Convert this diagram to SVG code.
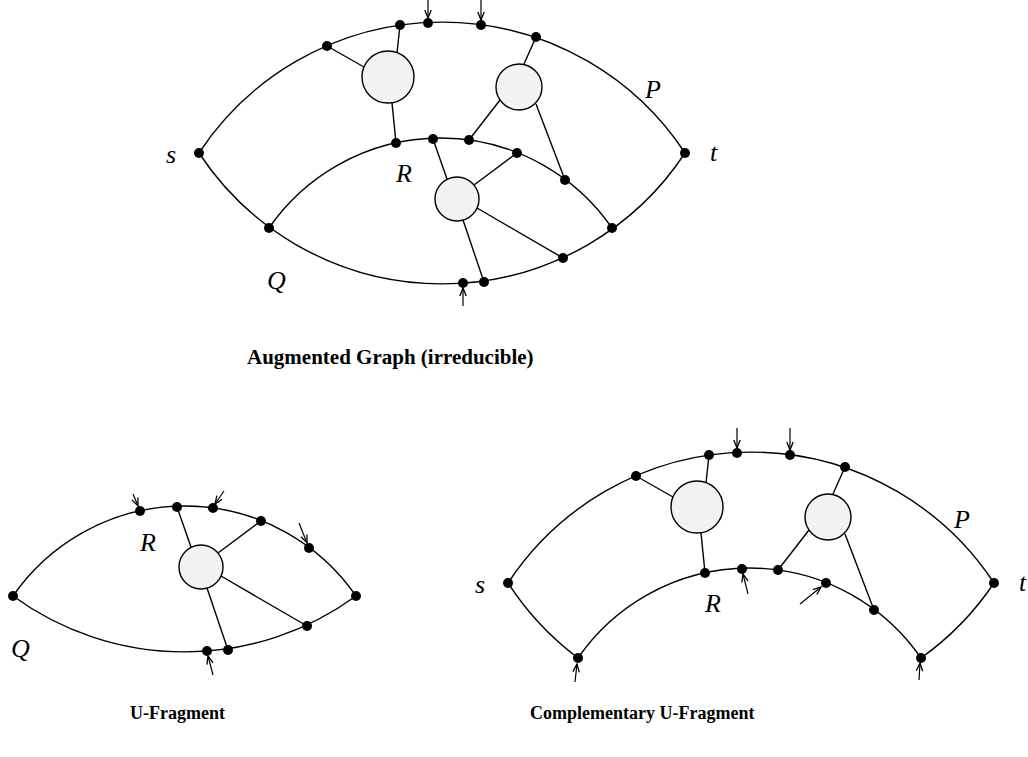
<svg xmlns="http://www.w3.org/2000/svg" width="1028" height="757" viewBox="0 0 1028 757">
<style>
.e{fill:none;stroke:#000;stroke-width:1.4}
.c{fill:#f2f2f2;stroke:#000;stroke-width:1.4}
.n{fill:#000}
.a{fill:none;stroke:#000;stroke-width:1.2;marker-end:url(#arr)}
.l{font-family:"Liberation Serif","Times New Roman",serif;font-style:italic;font-size:26px;fill:#000}
.cap{font-family:"Liberation Serif","Times New Roman",serif;font-weight:bold;font-size:18px;fill:#000}
</style>
<defs>
<marker id="arr" viewBox="-10 -5 12 10" refX="0" refY="0" markerWidth="12" markerHeight="10" markerUnits="userSpaceOnUse" orient="auto">
<path d="M-8,-3.2 L0,0 L-8,3.2" fill="none" stroke="#000" stroke-width="1.3"/>
</marker>
</defs>
<rect width="1028" height="757" fill="#fff"/>

<!-- Augmented graph -->
<g id="connectors-top">
<path class="e" d="M199,153 A291,291 0 0 1 685,153"/>
<path class="e" d="M199,153 A291,291 0 0 0 685,153"/>
<path class="e" d="M269,228 A208.4,208.4 0 0 1 612,228"/>
<line class="e" x1="327" y1="46" x2="364" y2="67"/>
<line class="e" x1="400" y1="25" x2="397" y2="53"/>
<line class="e" x1="392" y1="103" x2="396" y2="143"/>
<line class="e" x1="536" y1="37" x2="524" y2="64"/>
<line class="e" x1="500" y1="100" x2="469" y2="140"/>
<line class="e" x1="536" y1="104" x2="565" y2="180"/>
<line class="e" x1="433" y1="139" x2="447" y2="179"/>
<line class="e" x1="517" y1="153" x2="474" y2="185"/>
<line class="e" x1="477" y1="208" x2="563" y2="258"/>
<line class="e" x1="463" y1="220" x2="484" y2="282"/>
<line class="a" x1="428" y1="0" x2="428" y2="18"/>
<line class="a" x1="481" y1="0" x2="481" y2="20"/>
<line class="a" x1="463" y1="306" x2="463" y2="288"/>
</g>
<g id="top-circle-1"><circle class="c" cx="388" cy="77" r="26"/></g>
<g id="top-circle-2"><circle class="c" cx="519" cy="87" r="23"/></g>
<g id="top-circle-3"><circle class="c" cx="457" cy="199" r="22"/></g>
<g id="top-nodes">
<circle class="n" cx="199" cy="153" r="5"/>
<circle class="n" cx="685" cy="153" r="5"/>
<circle class="n" cx="327" cy="46" r="5"/>
<circle class="n" cx="400" cy="25" r="5"/>
<circle class="n" cx="428" cy="23" r="5"/>
<circle class="n" cx="481" cy="25" r="5"/>
<circle class="n" cx="536" cy="37" r="5"/>
<circle class="n" cx="269" cy="228" r="5"/>
<circle class="n" cx="612" cy="228" r="5"/>
<circle class="n" cx="396" cy="143" r="5"/>
<circle class="n" cx="433" cy="139" r="5"/>
<circle class="n" cx="469" cy="140" r="5"/>
<circle class="n" cx="517" cy="153" r="5"/>
<circle class="n" cx="565" cy="180" r="5"/>
<circle class="n" cx="563" cy="258" r="5"/>
<circle class="n" cx="484" cy="282" r="5"/>
<circle class="n" cx="463" cy="283" r="5"/>
</g>
<g id="top-labels">
<text class="l" x="166" y="163">s</text>
<text class="l" x="710" y="161">t</text>
<text class="l" x="645" y="98">P</text>
<text class="l" x="396" y="182">R</text>
<text class="l" x="267" y="289">Q</text>
<text class="cap" x="247" y="364" style="font-size:21px">Augmented Graph (irreducible)</text>
</g>

<!-- U-Fragment -->
<g id="connectors-left">
<path class="e" d="M13,596 A208.4,208.4 0 0 1 356,596"/>
<path class="e" d="M13,596 A291,291 0 0 0 356,596"/>
<line class="e" x1="177" y1="507" x2="191" y2="547"/>
<line class="e" x1="261" y1="521" x2="218" y2="553"/>
<line class="e" x1="221" y1="576" x2="307" y2="626"/>
<line class="e" x1="207" y1="588" x2="228" y2="650"/>
<line class="a" x1="133" y1="494" x2="138" y2="506"/>
<line class="a" x1="224" y1="491" x2="215" y2="504"/>
<line class="a" x1="299" y1="523" x2="307" y2="543"/>
<line class="a" x1="213" y1="675" x2="208" y2="656"/>
</g>
<g id="left-circle"><circle class="c" cx="201" cy="567" r="22"/></g>
<g id="left-nodes">
<circle class="n" cx="13" cy="596" r="5"/>
<circle class="n" cx="140" cy="511" r="5"/>
<circle class="n" cx="177" cy="507" r="5"/>
<circle class="n" cx="213" cy="508" r="5"/>
<circle class="n" cx="261" cy="521" r="5"/>
<circle class="n" cx="309" cy="548" r="5"/>
<circle class="n" cx="356" cy="596" r="5"/>
<circle class="n" cx="307" cy="626" r="5"/>
<circle class="n" cx="228" cy="650" r="5"/>
<circle class="n" cx="207" cy="651" r="5"/>
</g>
<g id="left-labels">
<text class="l" x="140" y="551">R</text>
<text class="l" x="11" y="657">Q</text>
<text class="cap" x="130" y="719">U-Fragment</text>
</g>

<!-- Complementary U-Fragment -->
<g id="connectors-right">
<path class="e" d="M508,583 A291,291 0 0 1 994,583"/>
<path class="e" d="M508,583 A291,291 0 0 0 578,658"/>
<path class="e" d="M921,658 A291,291 0 0 0 994,583"/>
<path class="e" d="M578,658 A208.4,208.4 0 0 1 921,658"/>
<line class="e" x1="636" y1="476" x2="673" y2="497"/>
<line class="e" x1="709" y1="455" x2="706" y2="483"/>
<line class="e" x1="701" y1="533" x2="705" y2="573"/>
<line class="e" x1="845" y1="467" x2="833" y2="494"/>
<line class="e" x1="809" y1="530" x2="778" y2="570"/>
<line class="e" x1="845" y1="534" x2="874" y2="610"/>
<line class="a" x1="737" y1="428" x2="737" y2="448"/>
<line class="a" x1="790" y1="428" x2="790" y2="450"/>
<line class="a" x1="748" y1="594" x2="743" y2="574"/>
<line class="a" x1="800" y1="604" x2="821" y2="587"/>
<line class="a" x1="575" y1="682" x2="577" y2="664"/>
<line class="a" x1="919" y1="680" x2="920" y2="663"/>
</g>
<g id="right-circle-1"><circle class="c" cx="697" cy="507" r="26"/></g>
<g id="right-circle-2"><circle class="c" cx="828" cy="517" r="23"/></g>
<g id="right-nodes">
<circle class="n" cx="508" cy="583" r="5"/>
<circle class="n" cx="994" cy="583" r="5"/>
<circle class="n" cx="636" cy="476" r="5"/>
<circle class="n" cx="709" cy="455" r="5"/>
<circle class="n" cx="737" cy="453" r="5"/>
<circle class="n" cx="790" cy="455" r="5"/>
<circle class="n" cx="845" cy="467" r="5"/>
<circle class="n" cx="705" cy="573" r="5"/>
<circle class="n" cx="742" cy="569" r="5"/>
<circle class="n" cx="778" cy="570" r="5"/>
<circle class="n" cx="826" cy="583" r="5"/>
<circle class="n" cx="874" cy="610" r="5"/>
<circle class="n" cx="578" cy="658" r="5"/>
<circle class="n" cx="921" cy="658" r="5"/>
</g>
<g id="right-labels">
<text class="l" x="475" y="593">s</text>
<text class="l" x="1019" y="591">t</text>
<text class="l" x="954" y="528">P</text>
<text class="l" x="705" y="612">R</text>
<text class="cap" x="530" y="719">Complementary U-Fragment</text>
</g>
</svg>
